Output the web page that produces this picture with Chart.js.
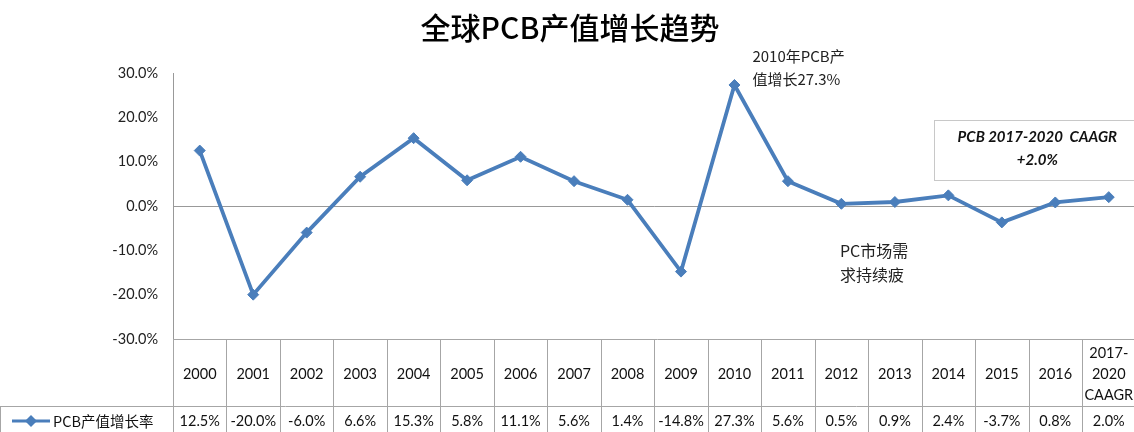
<!DOCTYPE html>
<html>
<head>
<meta charset="utf-8">
<script src="https://cdn.jsdelivr.net/npm/chart.js@4.4.1/dist/chart.umd.min.js"></script>
<style>
  html, body { margin: 0; padding: 0; background: #fff; overflow: hidden; }
  #wrap { width: 1142px; height: 432px; position: relative; }
</style>
</head>
<body>
<div id="wrap"><canvas id="myChart"></canvas></div>
<script>
// categories (table header), series values, y tick range
var years = ["2000", "2001", "2002", "2003", "2004", "2005", "2006", "2007", "2008",
             "2009", "2010", "2011", "2012", "2013", "2014", "2015", "2016", "2017-2020 CAAGR"];
var growth = [12.5, -20.0, -6.0, 6.6, 15.3, 5.8, 11.1, 5.6, 1.4,
              -14.8, 27.3, 5.6, 0.5, 0.9, 2.4, -3.7, 0.8, 2.0];
var seriesName = "PCB产值增长率";
var titleText = "全球PCB产值增长趋势";
var yMin = -30, yMax = 30, yStep = 10;

var lineColor = "rgb(74, 126, 187)";
var borderGray = "#a6a6a6";
var numFont = "Lato, 'Noto Sans CJK SC', sans-serif";
var cjkFont = "'Noto Sans CJK SC', Lato, sans-serif";

// data table under the plot + notes on the plot
var tablePlugin = {
    id: "tablePlugin",
    afterDraw: function(chart) {
        var ctx = chart.ctx;
        var area = chart.chartArea;
        var xs = chart.scales.x;
        var half = (xs.getPixelForValue(1) - xs.getPixelForValue(0)) / 2;
        var top = area.bottom;
        var mid = top + 67;
        var bot = mid + 27;

        ctx.save();
        ctx.strokeStyle = borderGray;
        ctx.lineWidth = 1;
        ctx.beginPath();
        ctx.moveTo(area.left, Math.round(top) + 0.5);
        ctx.lineTo(chart.width, Math.round(top) + 0.5);
        ctx.moveTo(0, Math.round(mid) + 0.5);
        ctx.lineTo(chart.width, Math.round(mid) + 0.5);
        ctx.moveTo(0.5, mid);
        ctx.lineTo(0.5, bot);
        for (var i = 0; i <= years.length; i++) {
            var bx = Math.round(xs.getPixelForValue(0) - half + i * half * 2) + 0.5;
            ctx.moveTo(bx, top);
            ctx.lineTo(bx, bot);
        }
        ctx.stroke();

        // header row
        ctx.fillStyle = "#111";
        ctx.textAlign = "center";
        ctx.textBaseline = "middle";
        ctx.font = "14.5px " + numFont;
        for (var i = 0; i < years.length; i++) {
            var cx = xs.getPixelForValue(i);
            if (years[i].indexOf(" ") > 0) {
                var parts = years[i].split(" ");
                var p1 = parts[0].split("-");
                ctx.fillText(p1[0] + "-", cx, top + 14);
                ctx.fillText(p1[1], cx, top + 35);
                ctx.fillText(parts[1], cx, top + 56);
            } else {
                ctx.fillText(years[i], cx, top + 35);
            }
        }

        // value row
        ctx.font = "14.5px " + numFont;
        for (var i = 0; i < growth.length; i++) {
            ctx.fillText(growth[i].toFixed(1) + "%", xs.getPixelForValue(i), mid + 15);
        }

        // legend cell
        var ly = mid + 15;
        ctx.strokeStyle = lineColor;
        ctx.lineWidth = 3;
        ctx.beginPath();
        ctx.moveTo(12, ly);
        ctx.lineTo(50, ly);
        ctx.stroke();
        ctx.fillStyle = lineColor;
        ctx.beginPath();
        ctx.moveTo(31, ly - 6);
        ctx.lineTo(37, ly);
        ctx.lineTo(31, ly + 6);
        ctx.lineTo(25, ly);
        ctx.closePath();
        ctx.fill();
        ctx.fillStyle = "#111";
        ctx.textAlign = "left";
        ctx.font = "14.5px " + cjkFont;
        ctx.fillText(seriesName, 53, ly);

        // notes
        var ys = chart.scales.y;
        ctx.font = "15px " + cjkFont;
        ctx.fillStyle = "#222";
        var nx = xs.getPixelForValue(10) + 18;
        ctx.fillText("2010年PCB产", nx, 56);
        ctx.fillText("值增长27.3%", nx, 79);

        ctx.font = "16px " + cjkFont;
        var px = xs.getPixelForValue(11) + 35;
        ctx.fillText("PC市场需", px + 17, ys.getPixelForValue(-10.2));
        ctx.fillText("求持续疲", px + 17, ys.getPixelForValue(-15.6));

        // CAAGR box
        var bx0 = xs.getPixelForValue(14) - 14;
        var by0 = 120;
        ctx.fillStyle = "#fff";
        ctx.fillRect(bx0, by0, 210, 60);
        ctx.strokeStyle = "#c8c8c8";
        ctx.lineWidth = 1;
        ctx.strokeRect(Math.round(bx0) + 0.5, by0 + 0.5, 210, 60);
        ctx.fillStyle = "#111";
        ctx.textAlign = "center";
        ctx.font = "italic bold 15px " + numFont;
        ctx.fillText("PCB 2017-2020  CAAGR", bx0 + 103, by0 + 17);
        ctx.fillText("+" + growth[growth.length - 1].toFixed(1) + "%", bx0 + 103, by0 + 40);
        ctx.restore();
    }
};

var ctx = document.getElementById("myChart").getContext("2d");
var myChart = new Chart(ctx, {
    type: "line",
    data: {
        labels: years,
        datasets: [{
            label: seriesName,
            data: growth,
            borderColor: lineColor,
            backgroundColor: lineColor,
            borderWidth: 3.8,
            pointStyle: "rectRot",
            pointRadius: 5.5,
            pointBorderWidth: 1,
            tension: 0,
            fill: false
        }]
    },
    options: {
        responsive: true,
        maintainAspectRatio: false,
        animation: false,
        layout: { padding: { left: 0, right: 2, top: 0, bottom: 93 } },
        plugins: {
            legend: { display: false },
            tooltip: { enabled: false },
            title: {
                display: true,
                text: titleText,
                color: "#000",
                font: { family: cjkFont, size: 30, weight: "500" },
                padding: { top: 10, bottom: 27 }
            }
        },
        scales: {
            x: {
                display: false,
                offset: true
            },
            y: {
                min: yMin,
                max: yMax,
                afterFit: function(scale) { scale.width = 173; },
                ticks: {
                    stepSize: yStep,
                    padding: 15,
                    color: "#222",
                    font: { family: numFont, size: 14.5 },
                    callback: function(v) { return v.toFixed(1) + "%"; }
                },
                grid: {
                    drawTicks: false,
                    color: function(c) { return c.tick && c.tick.value === 0 ? "#999" : "rgba(0,0,0,0)"; }
                },
                border: { display: true, color: "#999" }
            }
        }
    },
    plugins: [tablePlugin]
});
</script>
</body>
</html>
